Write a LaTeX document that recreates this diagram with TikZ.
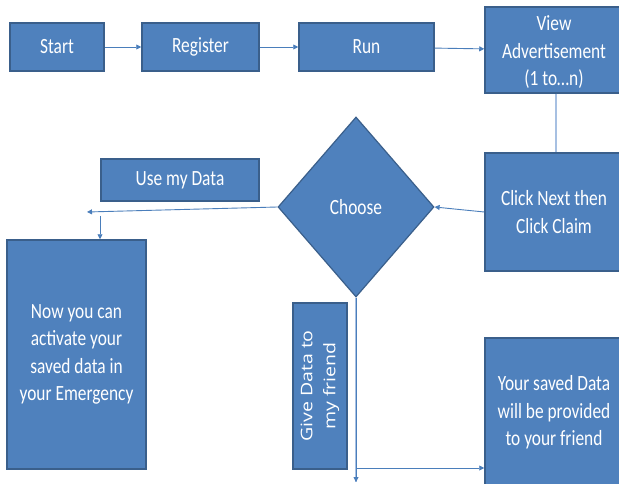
\documentclass[tikz,border=0pt]{standalone}
\usepackage{fontspec}
\setmainfont{Carlito}[FakeStretch=0.8]
\newfontfamily\rotfont{Open Sans}[FakeStretch=1.22]
\usetikzlibrary{shapes.geometric,arrows.meta}
\definecolor{boxfill}{HTML}{4F81BD}
\definecolor{boxline}{HTML}{3A5F8B}
\definecolor{conn}{HTML}{4A7EBB}
\definecolor{connlight}{HTML}{A7C0E2}
\tikzset{
  x=1pt,y=-1pt,
  flowbox/.style={draw=boxline,line width=1.5pt,fill=boxfill,text=white,inner sep=0pt,
    font=\fontsize{21.7}{27.5}\selectfont,align=center},
  conn/.style={draw=conn,line width=0.9pt,-{Triangle[length=5pt,width=5pt]}},
  lightconn/.style={draw=connlight,line width=2.2pt},
}
\newcommand{\boxat}[6]{% name, x1, y1, x2, y2, text
  \node[flowbox,minimum width={#4-#2},minimum height={#5-#3}] (#1) at ({(#2+#4)/2},{(#3+#5)/2}) {#6};}
\begin{document}
\begin{tikzpicture}
\useasboundingbox[fill=white] (0,0) rectangle (619,484);
\boxat{start}{10}{23}{104}{71}{Start}
\boxat{register}{142}{23}{259}{71}{Register}
\boxat{run}{299}{23}{434}{71}{Run}
\boxat{view}{485}{7}{623}{93}{\rule{0pt}{20pt}View\\Advertisement\\(1 to\ldots n)}
\boxat{click}{485}{153}{623}{271}{Click Next then\\Click Claim}
\boxat{usedata}{101}{159}{259}{201}{Use my Data}
\boxat{emerg}{7}{240}{146}{469}{Now you can\\activate your\\saved data in\\your Emergency}
\boxat{friendres}{485}{338}{623}{487}{Your saved Data\\will be provided\\to your friend}
\node[flowbox,minimum width=54pt,minimum height=166pt] (give) at (320,386) {};
\node[text=white,rotate=90,align=center,font=\rotfont\fontsize{16}{23}\selectfont] (givetext) at (give.center) {Give Data to\\my friend};
\node[diamond,draw=boxline,line width=1.2pt,fill=boxfill,text=white,inner sep=0pt,
  minimum width=156pt,minimum height=180pt,font=\fontsize{21.7}{27.5}\selectfont] (choose) at (356,207) {Choose};
\coordinate (leftend) at (87,212);
\coordinate (downstart) at (100,216);
\coordinate (bottomend) at (356,482);
\coordinate (hstart) at (356,468);
\draw[conn] (start) -- (register);
\draw[conn] (register) -- (run);
\draw[conn] (run) -- (view);
\draw[lightconn] (view.south -| 556,0) -- (click.north -| 556,0);
\draw[conn] (click.west |- 0,212) -- (choose.east);
\draw[conn] (choose.west) -- (leftend);
\draw[conn] (downstart) -- (downstart |- emerg.north);
\draw[lightconn] (choose.south) -- (bottomend);
\draw[conn] (choose.south) -- (bottomend);
\draw[conn] (hstart) -- (friendres.west |- hstart);
\end{tikzpicture}
\end{document}
